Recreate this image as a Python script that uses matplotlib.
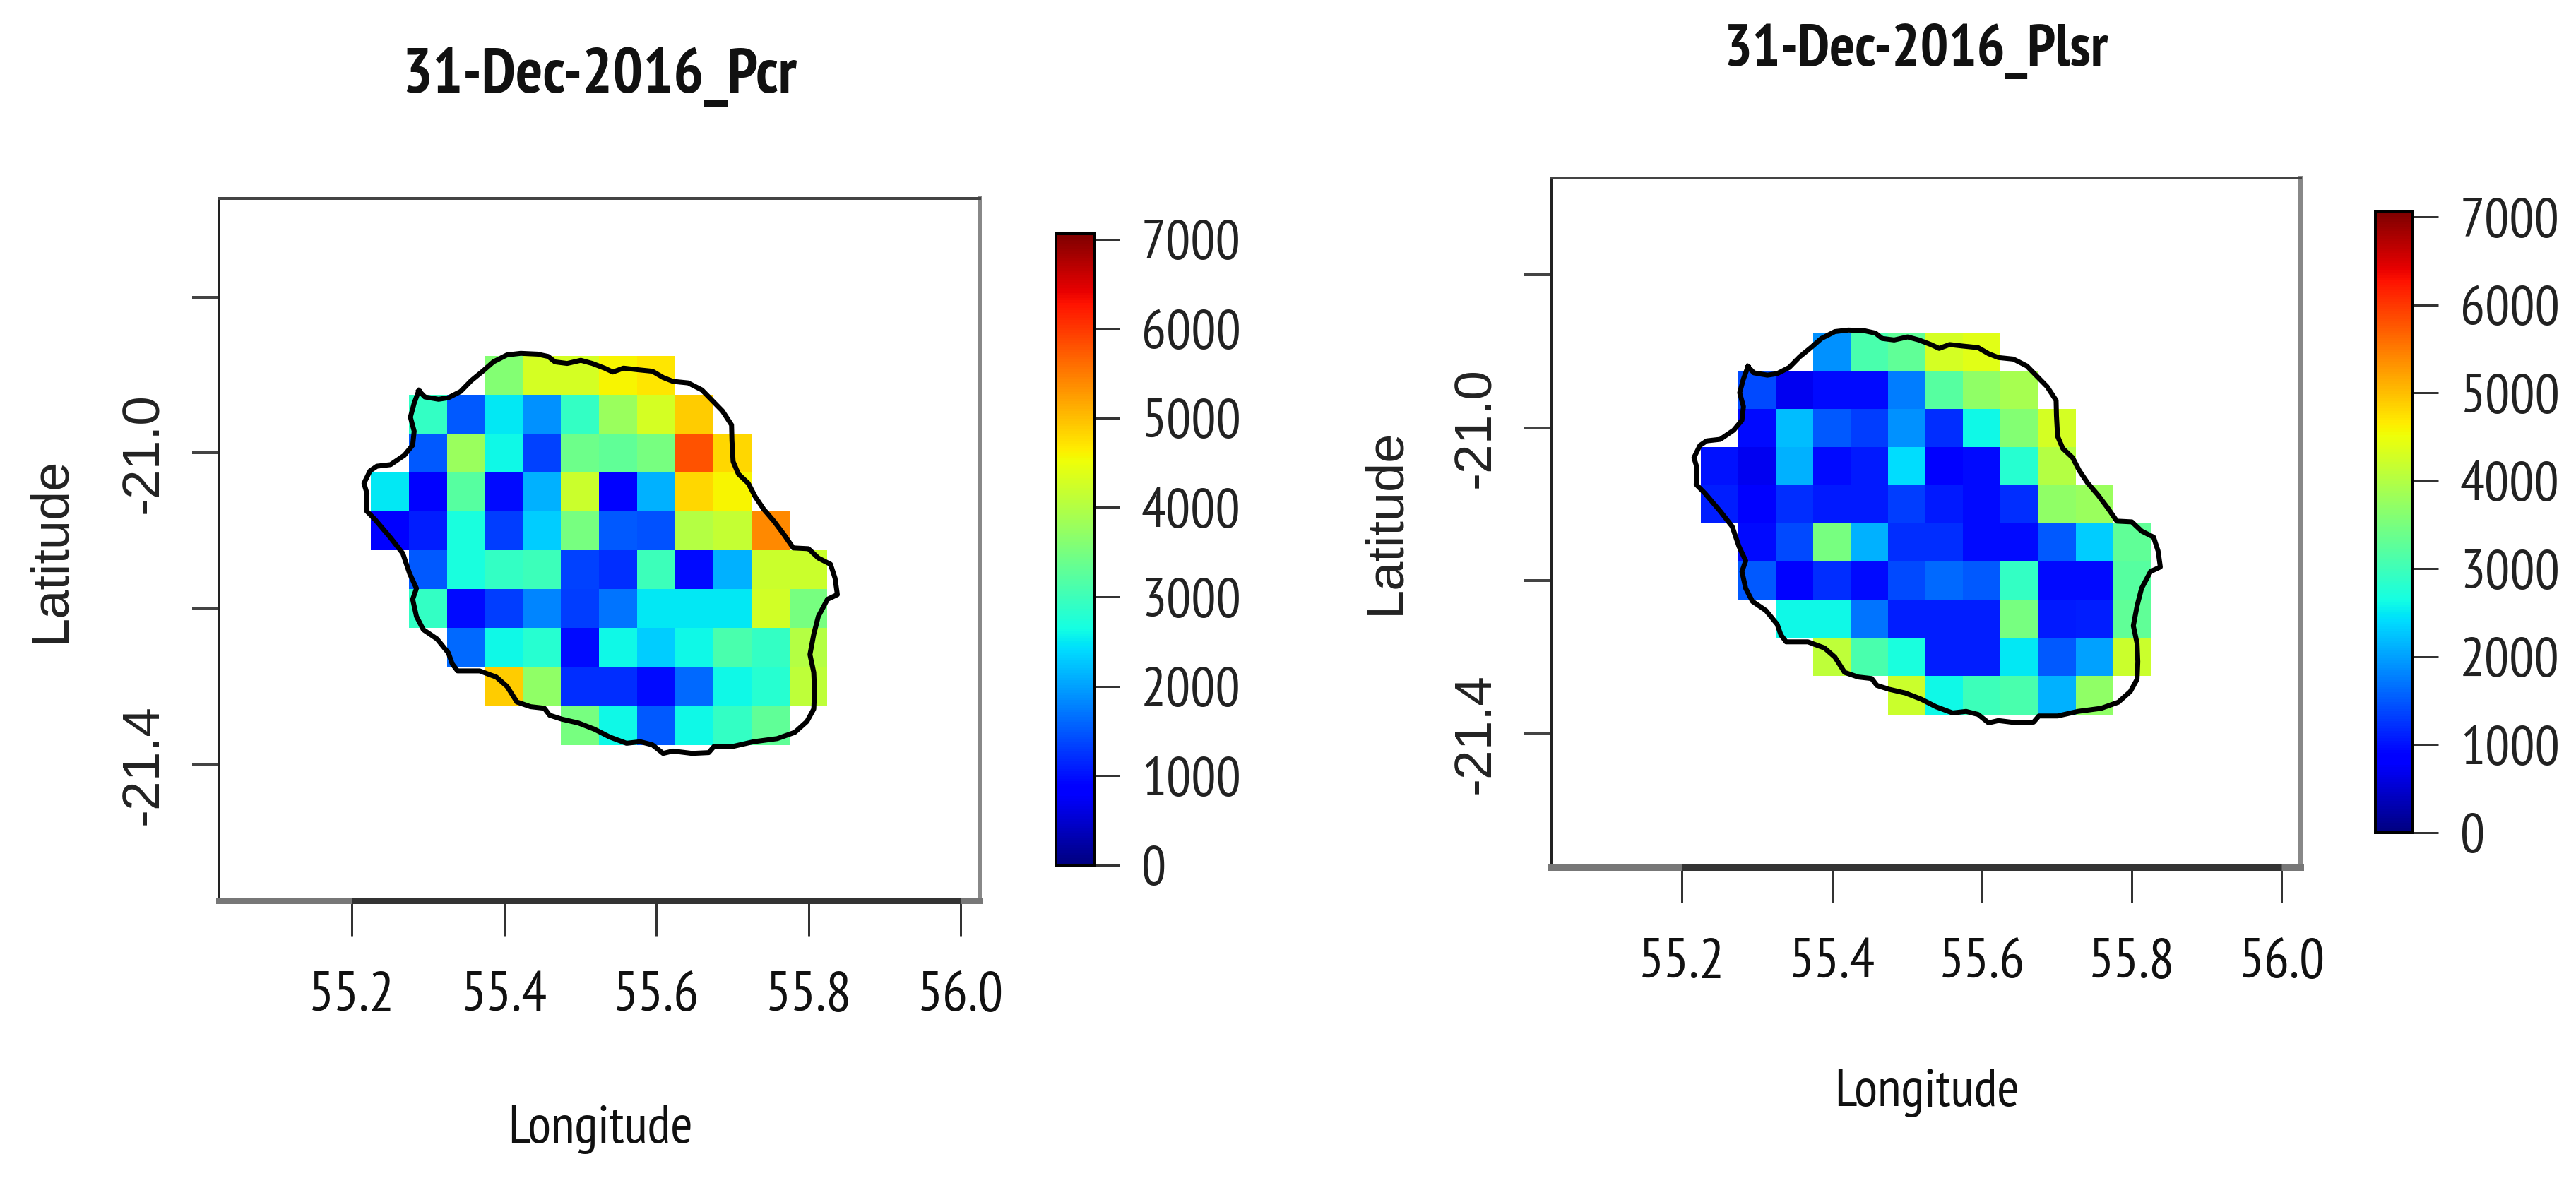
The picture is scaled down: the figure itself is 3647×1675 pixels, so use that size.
# Two rainfall maps of La Reunion for 31-Dec-2016, Pcr and Plsr estimates

import numpy as np
import matplotlib
matplotlib.use('Agg')
import matplotlib.pyplot as plt

# grid cell centres
lons = [55.25, 55.30, 55.35, 55.40, 55.45, 55.50, 55.55, 55.60, 55.65, 55.70, 55.75, 55.80]
lats = [-20.90, -20.95, -21.00, -21.05, -21.10, -21.15, -21.20, -21.25, -21.30, -21.35]
n = np.nan

# values, rows go north to south
pcr = [
    [n, n, n, 3600, 4300, 4300, 4600, 4700, n, n, n, n],
    [n, 2900, 1500, 2500, 1900, 2900, 3800, 4300, 4900, n, n, n],
    [n, 1500, 3800, 2600, 1350, 3400, 3300, 3500, 5800, 4800, n, n],
    [2500, 900, 3200, 950, 2100, 4200, 900, 2100, 4800, 4600, n, n],
    [850, 1100, 2700, 1300, 2300, 3500, 1500, 1450, 4000, 4150, 5400, n],
    [n, 1500, 2700, 2900, 3000, 1350, 1200, 3000, 950, 2100, 4200, 4200],
    [n, 2900, 950, 1300, 1800, 1300, 1700, 2500, 2500, 2500, 4250, 3500],
    [n, n, 1600, 2600, 2800, 950, 2600, 2300, 2600, 3100, 2900, 4000],
    [n, n, n, 4900, 3700, 1200, 1200, 950, 1600, 2600, 2800, 4100],
    [n, n, n, n, n, 3500, 2600, 1500, 2600, 2900, 3300, n],
]
plsr = [
    [n, n, n, 1900, 3100, 3300, 4300, 4400, n, n, n, n],
    [n, 1400, 700, 950, 950, 1750, 3200, 3700, 3900, n, n, n],
    [n, 950, 2200, 1500, 1300, 1900, 1200, 2600, 3600, 4300, n, n],
    [1000, 700, 2100, 950, 1050, 2400, 850, 950, 2800, 4000, n, n],
    [1100, 800, 1200, 1050, 1050, 1300, 1050, 950, 1200, 3700, 3800, n],
    [n, 950, 1400, 3500, 2100, 1200, 1200, 950, 950, 1500, 2300, 3300],
    [n, 1500, 900, 1200, 950, 1400, 1600, 1500, 2900, 950, 950, 3200],
    [n, n, 2600, 2600, 1700, 1100, 1100, 1100, 3500, 1050, 1100, 3300],
    [n, n, n, 4100, 3100, 2700, 1100, 1100, 2500, 1500, 2000, 4200],
    [n, n, n, n, n, 4200, 2600, 3000, 3100, 2100, 3700, n],
]

# island outline
coast_lon = [55.288, 55.296, 55.314, 55.327, 55.343, 55.357, 55.372, 55.386, 55.404, 55.422, 55.444, 55.458,
    55.467, 55.483, 55.501, 55.516, 55.532, 55.543, 55.557, 55.575, 55.595, 55.609, 55.622, 55.642,
    55.660, 55.674, 55.687, 55.699, 55.6995, 55.701, 55.708, 55.721, 55.730, 55.741, 55.755, 55.768,
    55.780, 55.800, 55.813, 55.829, 55.835, 55.838, 55.825, 55.813, 55.807, 55.802, 55.807, 55.808,
    55.807, 55.798, 55.782, 55.759, 55.728, 55.701, 55.676, 55.669, 55.647, 55.622, 55.609, 55.595,
    55.579, 55.561, 55.539, 55.519, 55.498, 55.476, 55.460, 55.453, 55.435, 55.417, 55.404, 55.390,
    55.368, 55.339, 55.332, 55.327, 55.312, 55.294, 55.285, 55.280, 55.285, 55.276, 55.267, 55.251,
    55.231, 55.219, 55.220, 55.216, 55.224, 55.233, 55.251, 55.269, 55.280, 55.282, 55.277, 55.282, 55.288]
coast_lat = [-20.920, -20.928, -20.931, -20.929, -20.921, -20.907, -20.895, -20.883, -20.874, -20.872, -20.873, -20.876,
    -20.883, -20.885, -20.881, -20.885, -20.891, -20.896, -20.891, -20.893, -20.895, -20.903, -20.908, -20.910,
    -20.919, -20.933, -20.946, -20.964, -20.984, -21.011, -21.027, -21.039, -21.056, -21.072, -21.088, -21.105,
    -21.122, -21.123, -21.135, -21.143, -21.161, -21.182, -21.188, -21.210, -21.233, -21.259, -21.282, -21.306,
    -21.329, -21.345, -21.359, -21.367, -21.371, -21.377, -21.377, -21.385, -21.386, -21.383, -21.386, -21.375,
    -21.371, -21.373, -21.365, -21.355, -21.347, -21.342, -21.337, -21.328, -21.326, -21.320, -21.300, -21.288,
    -21.280, -21.280, -21.271, -21.257, -21.239, -21.227, -21.210, -21.188, -21.174, -21.155, -21.129, -21.109,
    -21.086, -21.074, -21.052, -21.039, -21.023, -21.017, -21.015, -21.003, -20.990, -20.972, -20.954, -20.936, -20.920]

x_ticks = [55.2, 55.4, 55.6, 55.8, 56.0]
y_ticks = [-20.8, -21.0, -21.2, -21.4]
y_labels = ['', '-21.0', '', '-21.4']
bar_ticks = [0, 1000, 2000, 3000, 4000, 5000, 6000, 7000]

W, H = 3648, 1675
DPI = 100
narrow = ['PT Sans Narrow', 'Liberation Sans', 'DejaVu Sans']
wide = ['Liberation Sans', 'DejaVu Sans']


def pt(px):
    # pixels to points at this dpi
    return px * 72 / DPI


def px_axes(fig, left, top, right, bottom):
    return fig.add_axes([left / W, 1 - bottom / H, (right - left) / W, (bottom - top) / H])


def edges(centres):
    c = np.array(centres)
    step = c[1] - c[0]
    return np.append(c - step / 2, c[-1] + step / 2)


def panel(fig, values, title, title_px, box, bar, title_xy, xlabel_xy, ylabel_xy):
    ax = px_axes(fig, *box)
    mesh = ax.pcolormesh(edges(lons), edges(lats), np.ma.masked_invalid(values), cmap='jet', vmin=0, vmax=7060)
    ax.plot(coast_lon, coast_lat, color='black', lw=pt(7), solid_joinstyle='round')

    ax.set_xticks(x_ticks)
    ax.set_xticklabels(['%.1f' % v for v in x_ticks], family=narrow, fontsize=pt(80), color='#111111')
    ax.set_yticks(y_ticks)
    ax.set_yticklabels(y_labels, family=wide, fontsize=pt(75), rotation=90, va='center', color='#222222')
    ax.tick_params(axis='x', length=pt(50), width=pt(3), pad=pt(50), color='#333333')
    ax.tick_params(axis='y', length=pt(38), width=pt(4), pad=pt(34), color='#444444')

    # the box is heavier at the bottom and paler on the right
    ax.spines['top'].set_linewidth(pt(4))
    ax.spines['top'].set_color('#444444')
    ax.spines['left'].set_linewidth(pt(4))
    ax.spines['left'].set_color('#222222')
    ax.spines['right'].set_linewidth(pt(6))
    ax.spines['right'].set_color('#888888')
    ax.spines['bottom'].set_linewidth(pt(9))
    ax.spines['bottom'].set_color('#777777')
    ax.plot([x_ticks[0], x_ticks[-1]], [-21.575, -21.575], color='#333333', lw=pt(9), clip_on=False,
        solid_capstyle='butt', zorder=5)
    ax.set_xlim(55.0255, 56.025)
    ax.set_ylim(-21.575, -20.673)

    fig.text(title_xy[0] / W, 1 - title_xy[1] / H, title, family=narrow, fontsize=pt(title_px), fontweight='bold',
        ha='center', va='center', color='#111111')
    fig.text(xlabel_xy[0] / W, 1 - xlabel_xy[1] / H, 'Longitude', family=narrow, fontsize=pt(76),
        ha='center', va='center', color='#111111')
    fig.text(ylabel_xy[0] / W, 1 - ylabel_xy[1] / H, 'Latitude', family=wide, fontsize=pt(74),
        rotation=90, ha='center', va='center', color='#222222')

    cax = px_axes(fig, *bar)
    cb = fig.colorbar(mesh, cax=cax, ticks=bar_ticks)
    cb.ax.tick_params(length=pt(36), width=pt(3), pad=pt(31), color='#333333')
    cb.ax.set_yticklabels([str(v) for v in bar_ticks], family=narrow, fontsize=pt(78), color='#222222')
    cb.outline.set_linewidth(pt(4))
    cb.outline.set_edgecolor('black')


def main():
    fig = plt.figure(figsize=(W / DPI, H / DPI), dpi=DPI)
    panel(fig, pcr, '31-Dec-2016_Pcr', 90, (310, 281, 1387, 1275), (1495, 331, 1549, 1225),
        (849, 109), (850, 1600), (72, 778))
    panel(fig, plsr, '31-Dec-2016_Plsr', 84, (2196, 252, 3257, 1228), (3363, 300, 3416, 1179),
        (2713, 73), (2728, 1548), (1962, 738))
    fig.savefig('out.png', dpi=DPI)


main()
